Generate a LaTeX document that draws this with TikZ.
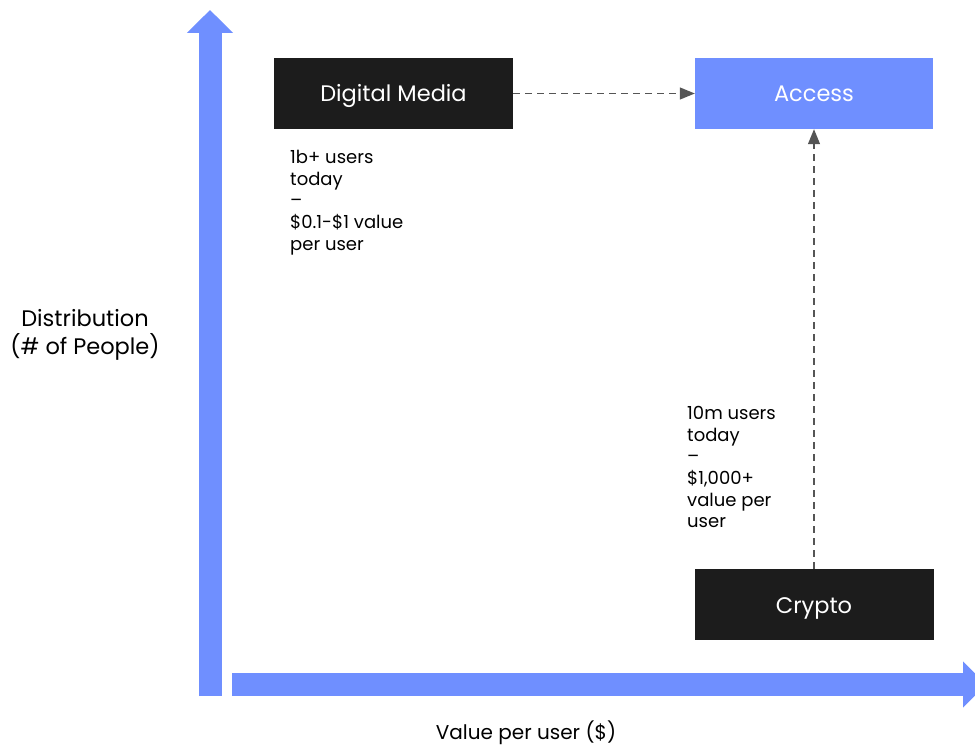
\documentclass[tikz,border=0pt]{standalone}
\usepackage{fontspec}
\setmainfont{Poppins}
\usetikzlibrary{arrows.meta}
\definecolor{axisblue}{HTML}{6F8FFF}
\definecolor{boxblack}{HTML}{1C1C1C}
\definecolor{dashgray}{HTML}{555555}

\begin{document}
\begin{tikzpicture}[x=1pt,y=-1pt]
  \tikzstyle{darkbox}=[fill=boxblack,text=white,minimum width=239pt,minimum height=71pt,text height=22pt,text depth=5pt,font=\fontsize{22.5}{26}\selectfont]
  \tikzstyle{bluebox}=[fill=axisblue,text=white,minimum width=238pt,minimum height=71pt,text height=22pt,text depth=5pt,font=\fontsize{22.5}{26}\selectfont]
  \tikzstyle{note}=[anchor=north west,align=left,inner sep=0pt,font=\fontsize{18}{21.7}\selectfont]
  \tikzstyle{axis}=[axisblue,line width=23pt,-{Triangle[width=45pt,length=23pt]}]
  \tikzstyle{link}=[dashgray,line width=1.3pt,dash pattern=on 7pt off 5pt,-{Triangle[width=12pt,length=15pt]}]
  \useasboundingbox (0,0) rectangle (975,749);
  \clip (0,0) rectangle (975,749);
  % axes
  \coordinate (y_0) at (210,696);
  \coordinate (y_1) at (210,10);
  \coordinate (x_0) at (232,684.5);
  \coordinate (x_1) at (986,684.5);
  \draw[axis] (y_0) -- (y_1);
  \draw[axis] (x_0) -- (x_1);
  % boxes
  \node[darkbox] (media) at (393.5,93.5) {Digital Media};
  \node[bluebox] (access) at (814,93.5) {Access};
  \node[darkbox] (crypto) at (814,604.5) {Crypto};
  \draw[link] (media) -- (access);
  \draw[link] (crypto) -- (access);
  % notes
  \node[note] (media_note) at (290,150) {1b+ users\\today\\--\\\$0.1-\$1 value\\per user};
  \node[note] (crypto_note) at (687,406) {10m users\\today\\--\\\$1,000+\\value per\\user};
  % axis labels
  \node[align=center,font=\fontsize{22.5}{28}\selectfont] (y_label) at (85,335) {Distribution\\(\# of People)};
  \node[font=\fontsize{20}{24}\selectfont] (x_label) at (526,733) {Value per user (\$)};
\end{tikzpicture}
\end{document}
